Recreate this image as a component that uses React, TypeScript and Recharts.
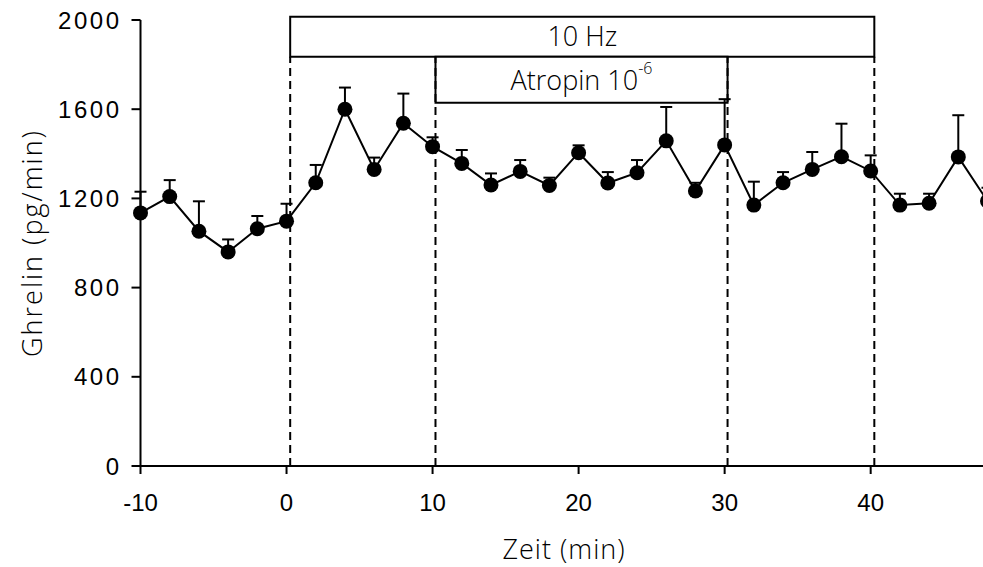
import {
  LineChart,
  Line,
  XAxis,
  YAxis,
  ErrorBar,
  ReferenceLine,
  ReferenceArea,
} from 'recharts';

// sampling times (min) and ghrelin release (pg/min), mean + SEM
const times = [-10, -8, -6, -4, -2, 0, 2, 4, 6, 8, 10, 12, 14, 16, 18, 20, 22, 24, 26, 28, 30, 32, 34, 36, 38, 40, 42, 44, 46, 48];
const ghrelin = [1135, 1208, 1053, 960, 1064, 1098, 1270, 1600, 1330, 1537, 1432, 1357, 1260, 1321, 1258, 1405, 1269, 1315, 1458, 1233, 1440, 1170, 1270, 1330, 1387, 1323, 1170, 1178, 1386, 1188];
const sem = [95, 74, 134, 56, 57, 78, 80, 97, 53, 133, 42, 60, 52, 51, 35, 33, 49, 57, 152, 37, 205, 105, 48, 78, 148, 70, 51, 43, 187, 60];

const xTicks = [-10, 0, 10, 20, 30, 40];
const yTicks = [0, 400, 800, 1200, 1600, 2000];

// stimulation periods
const stimStart = 0.25;
const stimEnd = 40.25;
const atropinStart = 10.2;
const atropinEnd = 30.2;

const data = times.map((t, i) => ({
  t,
  ghrelin: ghrelin[i],
  err: [0, sem[i]],
}));

const titleFont = '"Open Sans", sans-serif';
const tickFont = '"Liberation Sans", Arial, sans-serif';
const dash = { stroke: '#000', strokeWidth: 2, strokeDasharray: '8 5' };

const App = () => {
  return (
    // pinned to the viewport; the plot runs past the right edge and gets cut off there
    <div style={{ position: 'fixed', left: 0, top: 0, width: 983, height: 567, overflow: 'hidden', background: '#fff' }}>
      <LineChart
        width={1000}
        height={567}
        data={data}
        margin={{ top: 20, right: 12.5, bottom: 0, left: 0 }}
      >
        <XAxis
          dataKey="t"
          type="number"
          domain={[-10, 48]}
          ticks={xTicks}
          height={101}
          tickSize={8}
          tickMargin={20}
          axisLine={{ stroke: '#000', strokeWidth: 2 }}
          tickLine={{ stroke: '#000', strokeWidth: 2 }}
          tick={{ fill: '#000', fontSize: 24, fontFamily: tickFont }}
          label={{
            content: (props: any) => {
              const vb = props.viewBox;
              return (
                <text
                  x={vb.x + vb.width / 2}
                  y={vb.y + 82}
                  textAnchor="middle"
                  dominantBaseline="central"
                  fill="#000"
                  fontSize={27}
                  fontWeight={300}
                  letterSpacing={1}
                  fontFamily={titleFont}
                >
                  Zeit (min)
                </text>
              );
            },
          }}
        />
        <YAxis
          type="number"
          domain={[0, 2000]}
          ticks={yTicks}
          width={140.5}
          tickSize={9}
          tickMargin={10}
          axisLine={{ stroke: '#000', strokeWidth: 2 }}
          tickLine={{ stroke: '#000', strokeWidth: 2 }}
          tick={{ fill: '#000', fontSize: 24, fontFamily: tickFont, letterSpacing: 2.5 }}
          label={{
            content: (props: any) => {
              const vb = props.viewBox;
              const cy = vb.y + vb.height / 2;
              return (
                <text
                  x={31}
                  y={cy}
                  transform={`rotate(-90, 31, ${cy})`}
                  textAnchor="middle"
                  dominantBaseline="central"
                  fill="#000"
                  fontSize={27}
                  fontWeight={300}
                  letterSpacing={2}
                  fontFamily={titleFont}
                >
                  Ghrelin (pg/min)
                </text>
              );
            },
          }}
        />

        {/* dashed markers for start/end of stimulation and atropine */}
        <ReferenceLine segment={[{ x: stimStart, y: 0 }, { x: stimStart, y: 1835 }]} {...dash} />
        <ReferenceLine segment={[{ x: atropinStart, y: 0 }, { x: atropinStart, y: 1835 }]} {...dash} />
        <ReferenceLine segment={[{ x: atropinEnd, y: 0 }, { x: atropinEnd, y: 1835 }]} {...dash} />
        <ReferenceLine segment={[{ x: stimEnd, y: 0 }, { x: stimEnd, y: 1835 }]} {...dash} />

        <ReferenceArea
          x1={stimStart}
          x2={stimEnd}
          y1={1835}
          y2={2015}
          ifOverflow="visible"
          fill="#fff"
          fillOpacity={1}
          stroke="#000"
          strokeWidth={2}
          label={{
            value: '10 Hz',
            position: 'center',
            fill: '#000',
            fontSize: 27,
            fontWeight: 300,
            fontFamily: titleFont,
          }}
        />
        <ReferenceArea
          x1={atropinStart}
          x2={atropinEnd}
          y1={1629}
          y2={1835}
          ifOverflow="visible"
          fill="#fff"
          fillOpacity={1}
          stroke="#000"
          strokeWidth={2}
          label={{
            content: (props: any) => {
              const vb = props.viewBox;
              return (
                <text
                  x={vb.x + vb.width / 2}
                  y={vb.y + vb.height / 2}
                  textAnchor="middle"
                  dominantBaseline="central"
                  fill="#000"
                  fontSize={27}
                  fontWeight={300}
                  fontFamily={titleFont}
                >
                  Atropin 10
                  <tspan fontSize={16} dy={-12}>-6</tspan>
                </text>
              );
            },
          }}
        />

        <Line
          type="linear"
          dataKey="ghrelin"
          stroke="#000"
          strokeWidth={2}
          dot={{ r: 7.5, fill: '#000', stroke: '#000', strokeWidth: 0 }}
          activeDot={false}
          isAnimationActive={false}
        >
          <ErrorBar dataKey="err" direction="y" width={6} stroke="#000" strokeWidth={2} />
        </Line>
      </LineChart>
    </div>
  );
};

export default App;
